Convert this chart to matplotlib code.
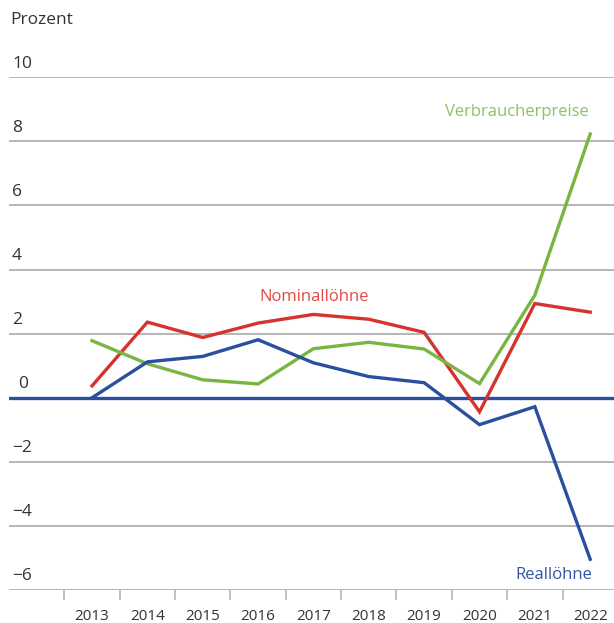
import numpy as np
import matplotlib.pyplot as plt

plt.rcParams['font.family'] = ['Open Sans', 'DejaVu Sans']

# Daten (Veränderung gegenüber Vorjahr in Prozent)
jahre = [2013, 2014, 2015, 2016, 2017, 2018, 2019, 2020, 2021, 2022]
nominal = [0.37, 2.36, 1.88, 2.33, 2.60, 2.45, 2.04, -0.44, 2.94, 2.67]
verbraucher = [1.78, 1.06, 0.56, 0.43, 1.53, 1.73, 1.52, 0.44, 3.20, 8.23]
real = [0.0, 1.12, 1.29, 1.81, 1.09, 0.66, 0.47, -0.84, -0.28, -5.04]
y_ticks = [-6, -4, -2, 0, 2, 4, 6, 8, 10]

rot = '#d6322e'
gruen = '#79b543'
blau = '#2a4f9e'
grau = '#b5b5b5'

fig = plt.figure(figsize=(6.14, 6.23), dpi=100)
ax = fig.add_axes([9.3 / 614, 1 - 590 / 623, 1 - 9.3 / 614, (590 - 77.3) / 623])
ax.set_xlim(2011.505, 2022.43)
ax.set_ylim(-6, 10)

for s in ax.spines.values():
    s.set_visible(False)

# Gitterlinien und Beschriftung der y-Achse
for v in y_ticks:
    if v == 0:
        continue
    ax.axhline(v, color=grau, lw=1.4, zorder=1)
    ax.annotate(str(v).replace('-', '\u2212'), xy=(0, v),
                xycoords=('axes fraction', 'data'), xytext=(2, 4),
                textcoords='offset points', ha='left', va='bottom',
                fontsize=12.5, color='#333333')
ax.annotate('0', xy=(0, 0), xycoords=('axes fraction', 'data'),
            xytext=(6, 4), textcoords='offset points', ha='left',
            va='bottom', fontsize=12.5, color='#333333')
ax.axhline(0, color=blau, lw=2.4, zorder=2)

ax.set_yticks([])
ax.set_xticks(jahre)
ax.set_xticklabels([str(j) for j in jahre], fontsize=11, color='#333333')
ax.tick_params(axis='x', which='major', length=0, pad=14)
ax.set_xticks(np.arange(2012.5, 2022, 1.0), minor=True)
ax.tick_params(axis='x', which='minor', length=7, width=1.2, color=grau)

ax.plot(jahre, nominal, color=rot, lw=2.4, zorder=3, solid_joinstyle='miter')
ax.plot(jahre, verbraucher, color=gruen, lw=2.4, zorder=3, solid_joinstyle='miter')
ax.plot(jahre, real, color=blau, lw=2.4, zorder=4, solid_joinstyle='miter')

ax.text(2017.01, 3.13, 'Nominallöhne', color='#e04a44', fontsize=12,
        ha='center', va='center')
ax.text(2020.68, 8.92, 'Verbraucherpreise', color='#8cc261', fontsize=12,
        ha='center', va='center')
ax.text(2021.35, -5.54, 'Reallöhne', color='#34559f', fontsize=12,
        ha='center', va='center')

fig.text(10 / 614, 1 - 20 / 623, 'Prozent', fontsize=12.5, color='#333333',
         ha='left', va='center')

fig.savefig('out.png', dpi=100)
